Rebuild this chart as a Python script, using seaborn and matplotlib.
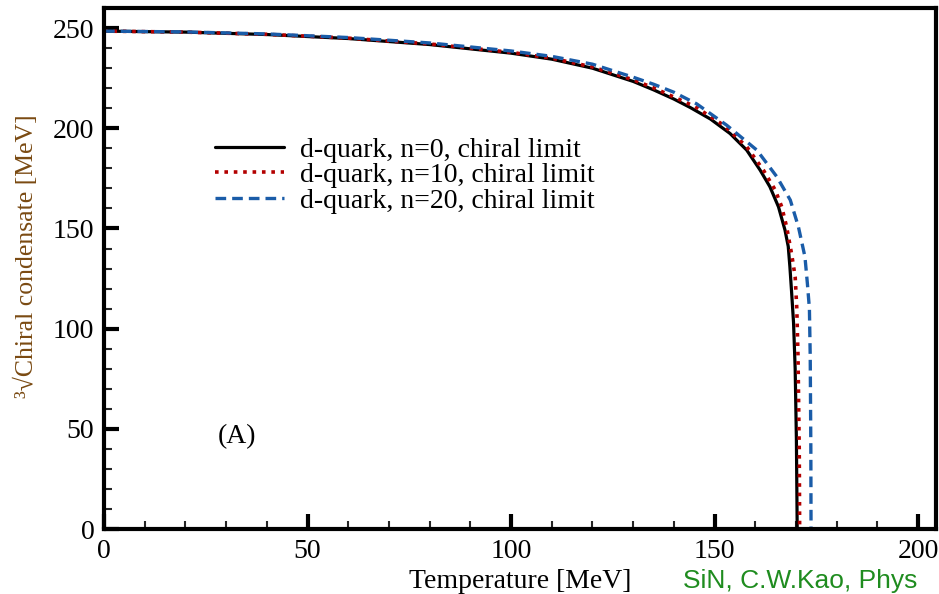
import matplotlib
matplotlib.use("Agg")
import matplotlib.pyplot as plt
import seaborn as sns
import pandas as pd
from matplotlib.ticker import MultipleLocator

# Temperature [MeV] and cube-root chiral condensate [MeV] for each n
t_n0 = [0, 20, 40, 60, 80, 100, 110, 120, 130, 135, 140, 144, 149, 153.8, 157.9,
        161.2, 163.6, 165.7, 167.3, 168.1, 168.5, 168.9, 169.4, 169.8, 170.1, 170.3]
c_n0 = [248.5, 248, 246.8, 244.8, 241.8, 237.5, 234.5, 230.0, 223.4, 219.2, 214.6,
        210.4, 204.6, 197.4, 189.1, 179.1, 170.8, 160.8, 149.2, 141, 131, 119, 103,
        80, 45, 0]

t_n10 = [0, 20, 40, 60, 80, 100, 110, 120, 130, 135, 140, 145.2, 152.2, 157.9, 162,
         164.9, 166.5, 167.7, 168.9, 169.8, 170.2, 170.5, 170.8, 170.9]
c_n10 = [248.5, 248, 246.9, 245, 242.1, 237.9, 235, 230.6, 224.2, 220.2, 215.6,
         210.8, 201.6, 190.8, 179.1, 169.2, 160.8, 150.8, 137.6, 125.9, 110, 86,
         40, 0]

t_n20 = [0, 20, 40, 60, 80, 100, 110, 120, 130, 135, 140, 145.6, 153, 160.4, 165.3,
         168.6, 170.6, 172.2, 172.8, 173.3, 173.5, 173.65, 173.7]
c_n20 = [248.5, 248.1, 247.1, 245.3, 242.6, 238.6, 235.9, 232, 225.5, 222, 218,
         212.2, 201.5, 189.1, 175.8, 164.2, 150.8, 135.9, 122.6, 110, 86, 40, 0]

labels = ["d-quark, n=0, chiral limit",
          "d-quark, n=10, chiral limit",
          "d-quark, n=20, chiral limit"]

df = pd.concat([
    pd.DataFrame({"T": t_n0, "c": c_n0, "series": labels[0]}),
    pd.DataFrame({"T": t_n10, "c": c_n10, "series": labels[1]}),
    pd.DataFrame({"T": t_n20, "c": c_n20, "series": labels[2]}),
])

sns.set_theme(style="white")
plt.rcParams["font.family"] = ["Liberation Serif", "DejaVu Serif"]
plt.rcParams["text.color"] = "black"
plt.rcParams["axes.labelcolor"] = "black"

fig = plt.figure(figsize=(9.39, 5.94), dpi=100)
ax = fig.add_axes([0.1108, 0.1094, 0.886, 0.877])

styles = {
    labels[0]: dict(color="black", linestyle="-", linewidth=2.3),
    labels[1]: dict(color="#b30000", linestyle=(0, (1, 1.6)), linewidth=2.6),
    labels[2]: dict(color="#1a5ca8", linestyle=(0, (3.2, 1.8)), linewidth=2.4),
}
for name in labels:
    sub = df[df["series"] == name]
    sns.lineplot(data=sub, x="T", y="c", ax=ax, estimator=None, sort=False,
                 label=name, **styles[name])

ax.set_xlim(0, 204.4)
ax.set_ylim(0, 260)
ax.xaxis.set_major_locator(MultipleLocator(50))
ax.xaxis.set_minor_locator(MultipleLocator(10))
ax.yaxis.set_major_locator(MultipleLocator(50))
ax.yaxis.set_minor_locator(MultipleLocator(10))
ax.tick_params(which="major", direction="in", length=11, width=3, labelsize=20,
               bottom=True, left=True, top=False, right=False, pad=7, colors="black")
ax.tick_params(which="minor", direction="in", length=5.5, width=1.5,
               bottom=True, left=True, top=False, right=False)
for s in ax.spines.values():
    s.set_linewidth(3)
    s.set_color("black")

ax.set_xlabel("Temperature [MeV]", fontsize=20, labelpad=4, color="black")
ax.set_ylabel("³√Chiral condensate [MeV]", fontsize=18.5, color="#7a4a12")
ax.yaxis.set_label_coords(-0.079, 0.524)

leg = ax.legend(loc="upper left", bbox_to_anchor=(0.1334, 0.752), frameon=False,
                fontsize=20, handlelength=2.5, handletextpad=0.55, labelspacing=0.0,
                borderaxespad=0, borderpad=0)
for txt in leg.get_texts():
    txt.set_color("black")

ax.text(32.7, 46, "(A)", fontsize=20, ha="center", va="center", color="black")

fig.text(683 / 939, 1 - 588 / 594, "SiN, C.W.Kao, Phys", fontsize=19,
         color="#1f8c1f", ha="left", va="baseline",
         family=["Liberation Sans", "DejaVu Sans"])

fig.savefig("out.png", dpi=100)
